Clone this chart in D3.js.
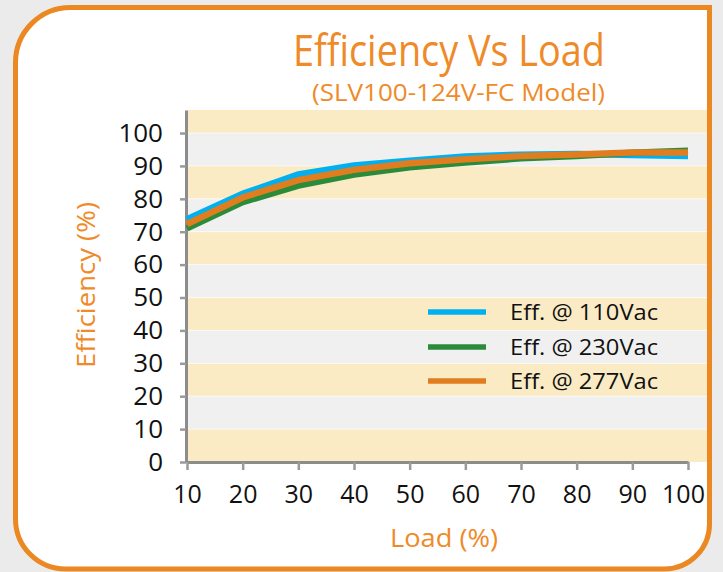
<!DOCTYPE html>
<html>
<head>
<meta charset="utf-8">
<script src="https://cdn.jsdelivr.net/npm/d3@7"></script>
<style>
  html, body { margin: 0; padding: 0; background: #ebebeb; }
  svg { display: block; }
  text { font-family: "Open Sans", "Noto Sans", sans-serif; }
</style>
</head>
<body>
<svg id="chart" width="723" height="572"></svg>
<script>
// ---- data ----
const loads = [10, 20, 30, 40, 50, 60, 70, 80, 90, 100];
const eff110 = [73.8, 81.5, 87.4, 90.1, 91.6, 92.9, 93.4, 93.6, 93.3, 93.0];
const eff230 = [71.0, 79.0, 84.0, 87.4, 89.6, 91.0, 92.3, 93.0, 94.0, 94.6];
const eff277 = [72.3, 80.4, 85.7, 88.8, 90.8, 92.0, 93.0, 93.5, 94.1, 94.1];
const seriesNames = ["Eff. @ 110Vac", "Eff. @ 230Vac", "Eff. @ 277Vac"];
const yTicks = [0, 10, 20, 30, 40, 50, 60, 70, 80, 90, 100];
const xTicks = [10, 20, 30, 40, 50, 60, 70, 80, 90, 100];
const titleText = "Efficiency Vs Load";
const subtitleText = "(SLV100-124V-FC Model)";
const yLabelText = "Efficiency (%)";
const xLabelText = "Load (%)";

// ---- styles ----
const colors = ["#00b0f0", "#2a8c3a", "#e07d1e"];
const orange = "#ef8a28";
const frameColor = "#eb8822";
const bandColors = ["#faebc5", "#f0f0f0"];
const axisColor = "#8c8c8c";

const svg = d3.select("#chart");

// frame geometry
const fL = 15.5, fT = 7.5, fR = 709.5, fB = 569;
const rTL = 55, rBR = 45, rBL = 50;
const framePath = `M${fL},${fT + rTL} A${rTL},${rTL} 0 0 1 ${fL + rTL},${fT}
  L${fR},${fT} L${fR},${fB - rBR} A${rBR},${rBR} 0 0 1 ${fR - rBR},${fB}
  L${fL + rBL},${fB} A${rBL},${rBL} 0 0 1 ${fL},${fB - rBL} Z`;

svg.append("path").attr("d", framePath).attr("fill", "#ffffff");

// clip to frame
svg.append("defs").append("clipPath").attr("id", "frameClip")
  .append("path").attr("d", framePath);

// scales
const x = d3.scaleLinear().domain([10, 100]).range([187, 688]);
const y = d3.scaleLinear().domain([0, 107]).range([462, 110]);

const plotLeft = x(10);
const plotRight = 707;

// bands
const bandEdges = yTicks.concat([y.domain()[1]]);
const bands = d3.range(bandEdges.length - 1).map(i => ({ lo: bandEdges[i], hi: bandEdges[i + 1], i }));
const gPlot = svg.append("g").attr("clip-path", "url(#frameClip)");
gPlot.selectAll("rect.band").data(bands).join("rect")
  .attr("class", "band")
  .attr("x", plotLeft)
  .attr("width", plotRight - plotLeft)
  .attr("y", d => y(d.hi))
  .attr("height", d => y(d.lo) - y(d.hi))
  .attr("fill", d => bandColors[d.i % 2]);
gPlot.selectAll("line.grid").data(yTicks.slice(1)).join("line")
  .attr("class", "grid")
  .attr("x1", plotLeft).attr("x2", plotRight)
  .attr("y1", d => y(d)).attr("y2", d => y(d))
  .attr("stroke", "#ffffff").attr("stroke-opacity", 0.6).attr("stroke-width", 1);

// axes
const yAxis = d3.axisLeft(y).tickValues(yTicks).tickSize(6).tickSizeOuter(0).tickPadding(17);
const gy = svg.append("g").attr("transform", `translate(${x(10) - 1},0)`).call(yAxis);
const xAxis = d3.axisBottom(x).tickValues(xTicks).tickSize(8).tickSizeOuter(0).tickPadding(15.5);
const gx = svg.append("g").attr("transform", `translate(0,${y(0)})`).call(xAxis);
[gx, gy].forEach(g => {
  g.select(".domain").attr("stroke", axisColor).attr("stroke-width", 3);
  g.selectAll(".tick line").attr("stroke", "#9a9a9a").attr("stroke-width", 2.5);
  g.selectAll(".tick text").attr("fill", "#111")
    .style("font-family", '"Open Sans", sans-serif');
});
gy.selectAll(".tick text").style("font-size", "26px");
gx.selectAll(".tick text").style("font-size", "25px")
  .attr("dx", d => d === xTicks[xTicks.length - 1] ? -5 : 0);

// lines
const allSeries = [eff110, eff230, eff277];
const line = d3.line().x((d, i) => x(loads[i])).y(d => y(d));
svg.append("g").selectAll("path.series").data(allSeries).join("path")
  .attr("class", "series")
  .attr("d", d => line(d))
  .attr("fill", "none")
  .attr("stroke", (d, i) => colors[i])
  .attr("stroke-width", 6.5)
  .attr("stroke-linejoin", "miter");

// legend
const legendY = [312, 347, 381];
const lg = svg.append("g");
seriesNames.forEach((name, i) => {
  lg.append("line").attr("x1", 428).attr("x2", 486)
    .attr("y1", legendY[i]).attr("y2", legendY[i])
    .attr("stroke", colors[i]).attr("stroke-width", 5.5);
  lg.append("text").attr("x", 510).attr("y", legendY[i] + 7.5)
    .attr("fill", "#111").style("font-size", "22px")
    .attr("textLength", 148).attr("lengthAdjust", "spacingAndGlyphs")
    .text(name);
});

// titles
svg.append("text").attr("x", 449).attr("y", 66).attr("text-anchor", "middle")
  .attr("fill", orange).style("font-size", "44px")
  .attr("textLength", 312).attr("lengthAdjust", "spacingAndGlyphs")
  .text(titleText);
svg.append("text").attr("x", 458.5).attr("y", 101).attr("text-anchor", "middle")
  .attr("fill", orange).style("font-size", "23px")
  .attr("textLength", 293).attr("lengthAdjust", "spacingAndGlyphs")
  .text(subtitleText);
svg.append("text").attr("transform", "translate(95,285) rotate(-90)")
  .attr("text-anchor", "middle").attr("fill", orange).style("font-size", "25px")
  .attr("textLength", 166).attr("lengthAdjust", "spacingAndGlyphs")
  .text(yLabelText);
svg.append("text").attr("x", 444).attr("y", 547).attr("text-anchor", "middle")
  .attr("fill", orange).style("font-size", "26px")
  .attr("textLength", 108).attr("lengthAdjust", "spacingAndGlyphs")
  .text(xLabelText);

// frame border on top
svg.append("path").attr("d", framePath).attr("fill", "none")
  .attr("stroke", frameColor).attr("stroke-width", 5);
</script>
</body>
</html>
